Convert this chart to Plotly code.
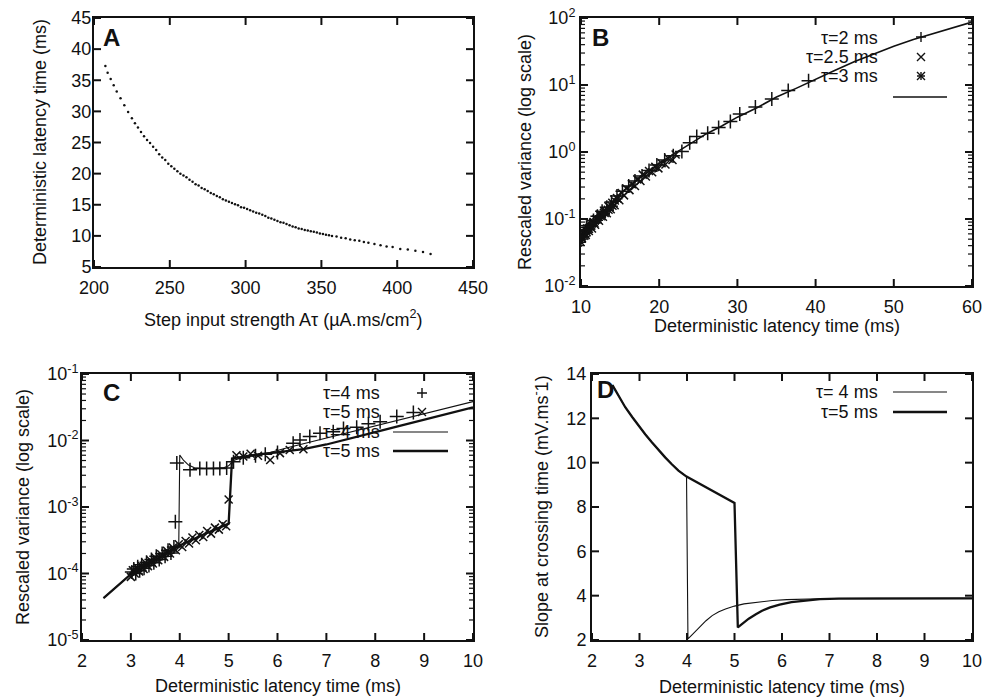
import math
import plotly.graph_objects as go

W, H = 997, 699
def fx(px): return px / W
def fy(py): return 1 - py / H

FONT = "Liberation Sans, Arial, sans-serif"
INK = "#111111"

# ---------------- Panel A : latency vs step input strength ----------------
a_strength = [207.5, 209, 211, 213, 215, 217.5, 220, 222.5, 225, 227, 229, 231, 233, 235, 237, 239,
              241, 243, 245, 247, 249, 251, 253, 255, 257, 259, 261, 263, 265, 267, 269, 271, 273,
              275, 277, 279, 281, 283, 285, 287, 289, 291, 293, 295, 297, 299, 301, 303, 305, 307,
              309, 311, 313, 315, 317, 319, 321, 323, 325, 327, 329, 331, 333, 335, 337, 339, 341,
              343, 345, 347, 349, 351, 353, 355, 357, 360, 363, 366, 369, 372, 375, 378, 381, 385,
              389, 393, 397, 402, 407, 412, 417, 422]
a_latency = [37.3, 36.2, 35.2, 34.2, 33.2, 32.1, 31.0, 29.9, 28.9, 28.1, 27.4, 26.7, 26.0, 25.4, 24.9, 24.3,
             23.8, 23.1, 22.6, 22.2, 21.6, 21.2, 20.8, 20.4, 20.0, 19.7, 19.4, 19.0, 18.7, 18.3, 18.1, 17.7, 17.5,
             17.2, 16.9, 16.7, 16.4, 16.2, 15.9, 15.7, 15.5, 15.3, 15.1, 14.9, 14.6, 14.5, 14.3, 14.1, 13.9, 13.7,
             13.6, 13.4, 13.2, 12.9, 12.8, 12.6, 12.4, 12.2, 12.1, 11.9, 11.7, 11.5, 11.4, 11.2, 11.1, 10.95, 10.85,
             10.75, 10.65, 10.55, 10.4, 10.3, 10.2, 10.1, 10.0, 9.9, 9.7, 9.6, 9.4, 9.3, 9.2, 9.0, 8.9, 8.7,
             8.5, 8.3, 8.2, 7.9, 7.8, 7.6, 7.4, 7.1]
a_xticks = [200, 250, 300, 350, 400, 450]
a_yticks = [5, 10, 15, 20, 25, 30, 35, 40, 45]

# ---------------- Panel B : rescaled variance (log) ----------------
b_line_x = [10, 11, 12, 13, 14, 15, 16, 17, 18, 19, 20, 22, 24, 26, 28, 30, 32.5, 35, 37.5, 40,
            42.5, 45, 47.5, 50, 52.5, 55, 57.5, 60]
b_line_v = [0.049, 0.071, 0.1, 0.135, 0.182, 0.24, 0.30, 0.37, 0.457, 0.56, 0.68, 0.955, 1.35, 1.86,
            2.45, 3.31, 4.57, 6.6, 8.9, 12.3, 16.6, 22.4, 29.5, 38, 47.9, 58.9, 72.4, 87]
b_tau2_x = [10.3, 10.7, 11.1, 11.6, 12.1, 12.7, 13.3, 13.9, 14.6, 15.3, 16.1, 16.9, 17.8, 18.7, 19.7,
            20.7, 21.8, 22.9, 23.9, 24.8, 26.2, 27.6, 29.1, 30.3, 32.3, 34.4, 36.5, 39.1]
b_tau2_v = [0.06, 0.075, 0.08, 0.095, 0.11, 0.13, 0.15, 0.18, 0.22, 0.26, 0.31, 0.37, 0.44, 0.53, 0.64,
            0.76, 0.88, 1.02, 1.38, 1.7, 1.91, 2.32, 2.86, 3.7, 4.7, 6.2, 8.3, 11.6]
b_tau25_x = [10.1, 10.4, 10.6, 10.8, 11.0, 11.2, 11.4, 11.6, 11.8, 12.0, 12.3, 12.5, 12.8, 13.0, 13.3,
             13.5, 13.8, 14.0, 14.3, 14.6, 14.9, 15.2, 15.5, 15.8, 16.2, 16.5, 16.9, 17.2, 17.6, 17.9,
             18.3, 18.7, 19.1, 19.5, 19.9, 20.3, 20.8, 21.2, 21.7, 22.1]
b_tau25_v = [0.052, 0.062, 0.058, 0.072, 0.066, 0.078, 0.072, 0.09, 0.082, 0.1, 0.094, 0.118, 0.108,
             0.13, 0.122, 0.155, 0.14, 0.175, 0.16, 0.205, 0.19, 0.245, 0.225, 0.285, 0.27, 0.33, 0.31,
             0.39, 0.37, 0.46, 0.43, 0.52, 0.5, 0.6, 0.57, 0.68, 0.65, 0.8, 0.76, 0.92]
b_tau3_x = [10.0, 10.1, 10.2, 10.35, 10.5, 10.65, 10.8, 10.95, 11.1, 11.25, 11.4, 11.6, 11.8, 12.0,
            12.2, 12.4, 12.6, 12.85, 13.1, 13.35, 13.6, 13.85, 14.1, 14.4, 14.7]
b_tau3_v = [0.045, 0.055, 0.05, 0.06, 0.055, 0.068, 0.062, 0.074, 0.07, 0.082, 0.078, 0.09, 0.086, 0.1,
            0.096, 0.112, 0.108, 0.125, 0.12, 0.14, 0.135, 0.16, 0.155, 0.185, 0.2]
b_xticks = [10, 20, 30, 40, 50, 60]
b_yticks = [1e-2, 1e-1, 1, 10, 100]
b_ylabels = ["10<sup>-2</sup>", "10<sup>-1</sup>", "10<sup>0</sup>", "10<sup>1</sup>", "10<sup>2</sup>"]

# ---------------- Panel C : rescaled variance, short latencies ----------------
c_line4_x = [2.44, 2.7, 3.0, 3.5, 3.98, 4.0, 4.08, 4.18, 4.3, 4.5, 4.7, 4.9, 5.0, 5.1, 5.3, 5.6, 5.85,
             6.2, 6.53, 7.0, 7.5, 8.1, 8.5, 9.0, 9.5, 10.0]
c_line4_v = [4.27e-5, 6.31e-5, 9.77e-5, 1.58e-4, 2.75e-4, 6.03e-3, 5.01e-3, 4.27e-3, 3.89e-3, 3.80e-3,
             3.80e-3, 3.89e-3, 4.17e-3, 5.01e-3, 5.62e-3, 6.17e-3, 6.61e-3, 7.76e-3, 8.91e-3, 1.07e-2,
             1.32e-2, 1.70e-2, 2.0e-2, 2.51e-2, 3.09e-2, 3.84e-2]
c_line5_x = [2.44, 2.7, 3.0, 3.5, 4.0, 4.5, 5.0, 5.07, 5.3, 5.6, 5.85, 6.2, 6.53, 7.0, 7.5, 8.1, 8.5,
             9.0, 9.5, 10.0]
c_line5_v = [4.27e-5, 6.31e-5, 9.77e-5, 1.58e-4, 2.63e-4, 3.89e-4, 5.62e-4, 5.37e-3, 5.75e-3, 6.17e-3,
             6.46e-3, 6.92e-3, 7.41e-3, 8.71e-3, 1.07e-2, 1.40e-2, 1.66e-2, 2.04e-2, 2.51e-2, 3.16e-2]
c_tau4_x = [3.02, 3.06, 3.1, 3.14, 3.18, 3.22, 3.27, 3.32, 3.37, 3.42, 3.47, 3.52, 3.58, 3.64, 3.7,
            3.76, 3.82, 3.88, 3.91, 3.94, 4.21, 4.41, 4.55, 4.69, 4.82, 4.96, 5.1, 5.3, 5.55, 5.75,
            6.0, 6.32, 6.46, 6.66, 6.87, 7.14, 7.35, 7.62, 7.86, 8.1, 8.44, 8.78]
c_tau4_v = [1.05e-4, 1.17e-4, 1.0e-4, 1.26e-4, 1.10e-4, 1.35e-4, 1.20e-4, 1.48e-4, 1.32e-4, 1.62e-4,
            1.45e-4, 1.82e-4, 1.62e-4, 2.0e-4, 1.82e-4, 2.24e-4, 2.04e-4, 2.51e-4, 6.0e-4, 4.6e-3,
            3.63e-3, 3.8e-3, 3.8e-3, 3.8e-3, 3.8e-3, 3.85e-3, 4.8e-3, 5.5e-3, 5.9e-3, 6.2e-3, 6.6e-3,
            9.1e-3, 1.02e-2, 1.15e-2, 1.29e-2, 1.35e-2, 1.51e-2, 1.58e-2, 1.78e-2, 1.91e-2, 2.29e-2,
            2.63e-2]
c_tau5_x = [3.0, 3.04, 3.08, 3.13, 3.17, 3.21, 3.26, 3.3, 3.35, 3.4, 3.45, 3.5, 3.56, 3.62, 3.68,
            3.74, 3.8, 3.86, 3.92, 3.98, 4.05, 4.12, 4.19, 4.26, 4.33, 4.4, 4.48, 4.56, 4.64, 4.72,
            4.8, 4.88, 4.95, 5.0, 5.16, 5.3, 5.45, 5.6, 5.85, 6.05, 6.25, 6.53]
c_tau5_v = [8.9e-5, 1.12e-4, 1.0e-4, 1.23e-4, 1.07e-4, 1.32e-4, 1.17e-4, 1.45e-4, 1.29e-4, 1.58e-4,
            1.41e-4, 1.74e-4, 1.58e-4, 1.95e-4, 1.78e-4, 2.19e-4, 2.0e-4, 2.45e-4, 2.24e-4, 2.75e-4,
            2.51e-4, 3.09e-4, 2.82e-4, 3.47e-4, 3.16e-4, 3.80e-4, 3.55e-4, 4.37e-4, 3.98e-4, 4.90e-4,
            4.57e-4, 5.5e-4, 5.13e-4, 1.3e-3, 6.0e-3, 5.75e-3, 6.3e-3, 5.9e-3, 5.1e-3, 6.46e-3, 7.2e-3,
            7.41e-3]
c_xticks = [2, 3, 4, 5, 6, 7, 8, 9, 10]
c_yticks = [1e-5, 1e-4, 1e-3, 1e-2, 1e-1]
c_ylabels = ["10<sup>-5</sup>", "10<sup>-4</sup>", "10<sup>-3</sup>", "10<sup>-2</sup>", "10<sup>-1</sup>"]

# ---------------- Panel D : slope at crossing time ----------------
d_line4_x = [2.43, 2.55, 2.7, 2.85, 2.98, 3.12, 3.26, 3.4, 3.54, 3.68, 3.82, 3.99, 4.02, 4.1, 4.25,
             4.4, 4.53, 4.67, 4.81, 5.0, 5.2, 5.4, 5.58, 5.8, 6.1, 6.5, 7.0, 8.0, 9.0, 10.0]
d_line4_v = [13.5, 13.05, 12.5, 12.05, 11.67, 11.28, 10.92, 10.57, 10.24, 9.93, 9.64, 9.37, 2.05, 2.22,
             2.57, 2.87, 3.10, 3.27, 3.40, 3.53, 3.63, 3.69, 3.73, 3.78, 3.82, 3.85, 3.87, 3.88, 3.88,
             3.88]
d_line5_x = [2.43, 2.55, 2.7, 2.85, 2.98, 3.12, 3.26, 3.4, 3.54, 3.68, 3.82, 3.99, 4.15, 4.32, 4.5,
             4.67, 4.84, 5.0, 5.07, 5.15, 5.3, 5.45, 5.58, 5.75, 5.95, 6.2, 6.5, 6.8, 7.2, 8.0, 9.0,
             10.0]
d_line5_v = [13.5, 13.05, 12.5, 12.05, 11.67, 11.28, 10.92, 10.57, 10.24, 9.93, 9.64, 9.37, 9.18, 9.0,
             8.8, 8.59, 8.38, 8.18, 2.57, 2.72, 2.96, 3.16, 3.32, 3.47, 3.6, 3.71, 3.79, 3.84, 3.87,
             3.88, 3.88, 3.88]
d_xticks = [2, 3, 4, 5, 6, 7, 8, 9, 10]
d_yticks = [2, 4, 6, 8, 10, 12, 14]

# panel frames in pixels (left, top, right, bottom) and axis ranges
BOX = {"A": (94, 18, 473, 267), "B": (581, 18, 972, 286), "C": (82, 374, 473, 640), "D": (592, 374, 972, 640)}
a_xr, a_yr = [200, 450], [5, 45]
b_xr, b_yr = [10, 60], [-2, 2]
c_xr, c_yr = [2, 10], [-5, -1]
d_xr, d_yr = [2, 10], [2, 14]

fig = go.Figure()

def mk(symbol, size=9, w=1.3):
    return dict(symbol=symbol, size=size, color=INK, line=dict(width=w, color=INK))

fig.add_trace(go.Scatter(x=a_strength, y=a_latency, mode="markers",
                         marker=dict(size=2.5, color=INK), xaxis="x", yaxis="y"))

fig.add_trace(go.Scatter(x=b_line_x, y=b_line_v, mode="lines", line=dict(color=INK, width=1.6),
                         xaxis="x2", yaxis="y2"))
fig.add_trace(go.Scatter(x=b_tau2_x, y=b_tau2_v, mode="markers", marker=mk("cross-thin", 10, 1.5),
                         xaxis="x2", yaxis="y2"))
fig.add_trace(go.Scatter(x=b_tau25_x, y=b_tau25_v, mode="markers", marker=mk("x-thin", 8, 1.5),
                         xaxis="x2", yaxis="y2"))
fig.add_trace(go.Scatter(x=b_tau3_x, y=b_tau3_v, mode="markers", marker=mk("asterisk", 8, 1.4),
                         xaxis="x2", yaxis="y2"))

fig.add_trace(go.Scatter(x=c_line4_x, y=c_line4_v, mode="lines", line=dict(color=INK, width=1.1),
                         xaxis="x3", yaxis="y3"))
fig.add_trace(go.Scatter(x=c_line5_x, y=c_line5_v, mode="lines", line=dict(color=INK, width=2.3),
                         xaxis="x3", yaxis="y3"))
fig.add_trace(go.Scatter(x=c_tau4_x, y=c_tau4_v, mode="markers", marker=mk("cross-thin", 10, 1.5),
                         xaxis="x3", yaxis="y3"))
fig.add_trace(go.Scatter(x=c_tau5_x, y=c_tau5_v, mode="markers", marker=mk("x-thin", 8, 1.5),
                         xaxis="x3", yaxis="y3"))

fig.add_trace(go.Scatter(x=d_line4_x, y=d_line4_v, mode="lines", line=dict(color=INK, width=1.1),
                         xaxis="x4", yaxis="y4"))
fig.add_trace(go.Scatter(x=d_line5_x, y=d_line5_v, mode="lines", line=dict(color=INK, width=2.3),
                         xaxis="x4", yaxis="y4"))

# inward tick marks on all four sides (gnuplot style), drawn as line segments through each panel's axes
def tick_traces(key, xa, ya, xvals, yvals, xr, yr, ylog=False, minor=False):
    l, t, r, b = BOX[key]
    wpx, hpx = float(r - l), float(b - t)
    dx = (xr[1] - xr[0]) / wpx
    dy = (yr[1] - yr[0]) / hpx
    def yv(p):
        return 10 ** p if ylog else p
    xs, ys = [], []
    for v in xvals:
        xs += [v, v, None, v, v, None]
        ys += [yv(yr[0]), yv(yr[0] + 7 * dy), None, yv(yr[1]), yv(yr[1] - 7 * dy), None]
    for v in yvals:
        xs += [xr[0], xr[0] + 7 * dx, None, xr[1], xr[1] - 7 * dx, None]
        ys += [v, v, None, v, v, None]
    fig.add_trace(go.Scatter(x=xs, y=ys, mode="lines", line=dict(color=INK, width=2),
                             hoverinfo="skip", xaxis=xa, yaxis=ya))
    if minor:
        mx, my = [], []
        for dec in range(int(yr[0]), int(yr[1])):
            for k in range(2, 10):
                v = k * 10.0 ** dec
                mx += [xr[0], xr[0] + 4 * dx, None, xr[1], xr[1] - 4 * dx, None]
                my += [v, v, None, v, v, None]
        fig.add_trace(go.Scatter(x=mx, y=my, mode="lines", line=dict(color=INK, width=1.2),
                                 hoverinfo="skip", xaxis=xa, yaxis=ya))

tick_traces("A", "x", "y", a_xticks, a_yticks, a_xr, a_yr)
tick_traces("B", "x2", "y2", b_xticks, b_yticks, b_xr, b_yr, ylog=True, minor=True)
tick_traces("C", "x3", "y3", c_xticks, c_yticks, c_xr, c_yr, ylog=True, minor=True)
tick_traces("D", "x4", "y4", d_xticks, d_yticks, d_xr, d_yr)

tickfont = dict(family=FONT, size=18, color=INK)
base = dict(showline=True, linewidth=2, linecolor=INK, mirror=True, ticks="",
            showgrid=False, zeroline=False, tickfont=tickfont, automargin=False, tickmode="array")

def xdom(k): return [fx(BOX[k][0]), fx(BOX[k][2])]
def ydom(k): return [fy(BOX[k][3]), fy(BOX[k][1])]

fig.update_layout(
    template="none",
    width=W, height=H, margin=dict(l=0, r=0, t=0, b=0, autoexpand=False),
    showlegend=False,
    font=dict(family=FONT, color=INK, size=18),
    xaxis=dict(base, domain=xdom("A"), range=a_xr, tickvals=a_xticks, ticklabelstandoff=3, anchor="y"),
    yaxis=dict(base, domain=ydom("A"), range=a_yr, tickvals=a_yticks, ticklabelstandoff=-3, anchor="x"),
    xaxis2=dict(base, domain=xdom("B"), range=b_xr, tickvals=b_xticks, ticklabelstandoff=3, anchor="y2"),
    yaxis2=dict(base, type="log", domain=ydom("B"), range=b_yr, tickvals=b_yticks, ticktext=b_ylabels,
                anchor="x2"),
    xaxis3=dict(base, domain=xdom("C"), range=c_xr, tickvals=c_xticks, ticklabelstandoff=3, anchor="y3"),
    yaxis3=dict(base, type="log", domain=ydom("C"), range=c_yr, tickvals=c_yticks, ticktext=c_ylabels,
                ticklabelstandoff=-2, anchor="x3"),
    xaxis4=dict(base, domain=xdom("D"), range=d_xr, tickvals=d_xticks, ticklabelstandoff=3, anchor="y4"),
    yaxis4=dict(base, domain=ydom("D"), range=d_yr, tickvals=d_yticks, anchor="x4"),
)

ann = []
def text(px, py, s, size=18, xa="center", ya="middle", angle=0, bold=False):
    ann.append(dict(x=fx(px), y=fy(py), xref="paper", yref="paper", text=("<b>%s</b>" % s) if bold else s,
                    showarrow=False, xanchor=xa, yanchor=ya, textangle=angle,
                    font=dict(family=FONT, size=size, color=INK)))

# axis titles
text(283.5, 318, "Step input strength Aτ (µA.ms/cm<sup>2</sup>)")
text(40, 142, "Deterministic latency time (ms)", angle=-90)
text(525, 152, "Rescaled variance (log scale)", angle=-90)
text(776.5, 326, "Deterministic latency time (ms)")
text(23, 507, "Rescaled variance (log scale)", angle=-90)
text(277.5, 686, "Deterministic latency time (ms)")
text(540, 507, "Slope at crossing time (mV.ms<sup>-</sup>1)", angle=-90)
text(782, 687, "Deterministic latency time (ms)")

# panel letters
text(101, 38, "A", size=24, xa="left", bold=True)
text(590, 37, "B", size=24, xa="left", bold=True)
text(101, 392, "C", size=24, xa="left", bold=True)
text(595, 390, "D", size=24, xa="left", bold=True)

# legends (gnuplot style: text right-aligned, key on the right)
text(880, 38, "τ=2 ms", xa="right")
text(880, 57, "τ=2.5 ms", xa="right")
text(880, 76, "τ=3 ms", xa="right")
text(382, 393, "τ=4 ms", xa="right")
text(382, 412, "τ=5 ms", xa="right")
text(382, 432, "τ=4 ms", xa="right")
text(382, 451, "τ=5 ms", xa="right")
text(880, 392, "τ= 4 ms", xa="right")
text(880, 412, "τ=5 ms", xa="right")

shapes = []
def hline(x0, x1, y, w):
    shapes.append(dict(type="line", xref="paper", yref="paper", x0=fx(x0), x1=fx(x1), y0=fy(y), y1=fy(y),
                       line=dict(color=INK, width=w)))
def plus(cx, cy, r=5, w=1.4):
    shapes.append(dict(type="path", xref="paper", yref="paper",
                       path="M%f,%f L%f,%f M%f,%f L%f,%f" % (fx(cx - r), fy(cy), fx(cx + r), fy(cy),
                                                           fx(cx), fy(cy - r), fx(cx), fy(cy + r)),
                       line=dict(color=INK, width=w)))
def cross(cx, cy, r=4, w=1.4):
    shapes.append(dict(type="path", xref="paper", yref="paper",
                       path="M%f,%f L%f,%f M%f,%f L%f,%f" % (fx(cx - r), fy(cy - r), fx(cx + r), fy(cy + r),
                                                           fx(cx - r), fy(cy + r), fx(cx + r), fy(cy - r)),
                       line=dict(color=INK, width=w)))

plus(921, 37)
cross(921, 57)
plus(921, 76, r=4)
cross(921, 76)
hline(893, 947, 97, 1.3)
plus(422, 393)
cross(422, 412)
hline(393, 448, 432, 1.1)
hline(393, 448, 451, 2.3)
hline(893, 947, 392, 1.1)
hline(893, 947, 412, 2.3)

fig.update_layout(annotations=ann, shapes=shapes)
fig.write_html("out.html", config={"displayModeBar": False},
               post_script="document.body.style.margin='0';")
